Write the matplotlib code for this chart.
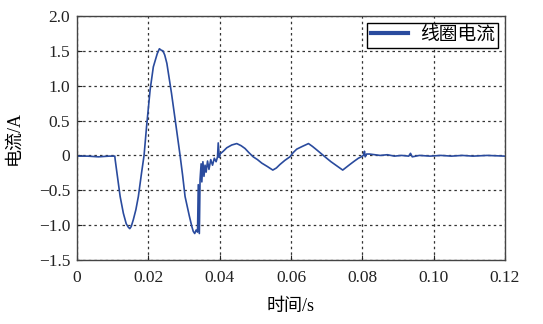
import matplotlib
matplotlib.use("Agg")
from matplotlib import pyplot as plt

# coil current (time in s, current in A)
t = [0.0, 0.0030, 0.0060, 0.0090, 0.0106, 0.0107, 0.0112, 0.0121, 0.0130, 0.0138,
     0.0144, 0.0148, 0.0152, 0.0158, 0.0165, 0.0172, 0.0181, 0.0188, 0.0195, 0.0205,
     0.0214, 0.0225, 0.0231, 0.0236, 0.0241, 0.0246, 0.0252, 0.0265, 0.0278, 0.0289,
     0.0296, 0.0303, 0.0315, 0.0322, 0.0326, 0.0330, 0.0334, 0.0338, 0.0340, 0.0343,
     0.0345, 0.0348, 0.0350, 0.0353, 0.0356, 0.0359, 0.0362, 0.0366, 0.0370, 0.0375,
     0.0380, 0.0385, 0.0390, 0.0394, 0.0396, 0.0399, 0.0401, 0.0410, 0.0420, 0.0434,
     0.0448, 0.0460, 0.0471, 0.0482, 0.0494, 0.0506, 0.0518, 0.0534, 0.0549, 0.0559,
     0.0569, 0.0583, 0.0597, 0.0606, 0.0616, 0.0632, 0.0649, 0.0660, 0.0672, 0.0686,
     0.0700, 0.0712, 0.0723, 0.0734, 0.0745, 0.0755, 0.0765, 0.0778, 0.0789, 0.0797,
     0.0803, 0.0806, 0.0808, 0.0812, 0.0820, 0.0835, 0.0850, 0.0870, 0.0890, 0.0910,
     0.0930, 0.0935, 0.0940, 0.0960, 0.0990, 0.1020, 0.1050, 0.1080, 0.1110, 0.1150,
     0.1200]
i = [-0.01, -0.01, -0.02, -0.01, -0.01, -0.06, -0.25, -0.59, -0.83, -0.98,
     -1.03, -1.05, -1.02, -0.92, -0.78, -0.59, -0.25, 0.00, 0.41, 0.94,
     1.27, 1.46, 1.53, 1.51, 1.50, 1.44, 1.32, 0.89, 0.41, 0.00,
     -0.28, -0.59, -0.87, -1.02, -1.09, -1.12, -1.07, -1.10, -0.42, -1.12,
     -0.35, -0.12, -0.38, -0.09, -0.30, -0.14, -0.24, -0.08, -0.20, -0.06,
     -0.14, -0.04, -0.09, -0.02, 0.18, -0.03, 0.02, 0.06, 0.11, 0.15,
     0.17, 0.14, 0.10, 0.04, -0.02, -0.06, -0.11, -0.16, -0.21, -0.18,
     -0.13, -0.07, -0.02, 0.04, 0.09, 0.13, 0.17, 0.13, 0.08, 0.02,
     -0.04, -0.09, -0.13, -0.17, -0.21, -0.17, -0.13, -0.08, -0.04, -0.02,
     0.00, 0.06, -0.02, 0.02, 0.02, 0.01, 0.00, 0.01, -0.01, 0.00,
     -0.01, 0.03, -0.02, 0.00, -0.01, 0.00, -0.01, 0.00, -0.01, 0.00,
     -0.01]

x_ticks = [0, 0.02, 0.04, 0.06, 0.08, 0.10, 0.12]
x_labels = ["0", "0.02", "0.04", "0.06", "0.08", "0.10", "0.12"]
y_ticks = [-1.5, -1.0, -0.5, 0, 0.5, 1.0, 1.5, 2.0]
y_labels = ["\u22121.5", "\u22121.0", "\u22120.5", "0", "0.5", "1.0", "1.5", "2.0"]

cjk = ["Liberation Serif", "Noto Sans CJK SC"]
plt.rcParams["font.family"] = cjk

fig = plt.figure(figsize=(5.43, 3.24), dpi=100)
ax = fig.add_axes([77 / 543, 1 - 260 / 324, 428 / 543, 244 / 324])

ax.plot(t, i, color="#2a4b9e", lw=1.2, label="线圈电流")

ax.set_xlim(0, 0.12)
ax.set_ylim(-1.5, 2.0)
ax.set_xticks(x_ticks)
ax.set_xticklabels(x_labels)
ax.set_yticks(y_ticks)
ax.set_yticklabels(y_labels)
ax.tick_params(direction="in", labelsize=12.5, colors="#222222")
ax.tick_params(axis="x", pad=7)
ax.tick_params(axis="y", pad=5)
ax.grid(True, linestyle=(0, (2, 2.5)), color="#333333", lw=0.9)
for s in ax.spines.values():
    s.set_color("#444444")
    s.set_linewidth(1.0)

ax.set_xlabel("时间/s", fontsize=13)
ax.set_ylabel("电流/A", fontsize=13)
ax.xaxis.set_label_coords(0.5, -0.155)
ax.yaxis.set_label_coords(-0.128, 0.5)

leg = ax.legend(loc="upper right", fontsize=13.5, fancybox=False, framealpha=1,
                edgecolor="black", handlelength=2.0, borderpad=0.2,
                borderaxespad=0.35, handletextpad=0.6)
leg.get_frame().set_linewidth(1.0)
for line in leg.get_lines():
    line.set_linewidth(3)

fig.savefig("out.png", dpi=100)
